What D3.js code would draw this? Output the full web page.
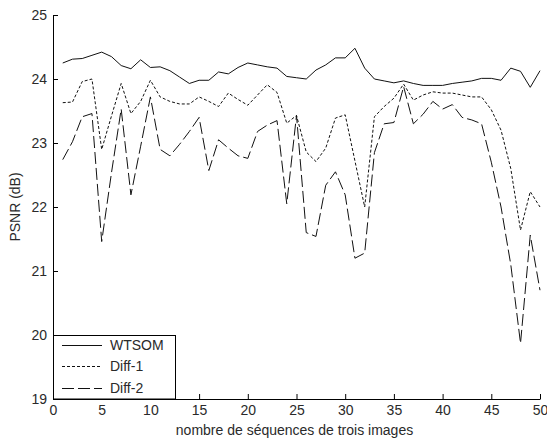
<!DOCTYPE html>
<html>
<head>
<meta charset="utf-8">
<script src="https://cdn.jsdelivr.net/npm/d3@7"></script>
<style>
  html, body { margin: 0; padding: 0; background: #fff; }
  svg { display: block; }
  text { font-family: "Liberation Sans", Arial, sans-serif; }
</style>
</head>
<body>
<svg id="chart" width="547" height="441"></svg>
<script>
const xValues = d3.range(1, 51);
const wtsom = [24.25,24.31,24.32,24.37,24.42,24.35,24.21,24.16,24.30,24.18,
               24.19,24.13,24.03,23.93,23.98,23.98,24.11,24.08,24.18,24.25,
               24.22,24.19,24.17,24.04,24.02,24.00,24.14,24.22,24.33,24.33,
               24.48,24.17,24.00,23.97,23.94,23.97,23.93,23.90,23.90,23.90,
               23.93,23.95,23.97,24.01,24.01,23.98,24.17,24.12,23.87,24.13];
const diff1 = [23.63,23.64,23.96,24.00,22.90,23.42,23.93,23.46,23.65,23.98,
               23.72,23.65,23.61,23.61,23.72,23.65,23.57,23.78,23.68,23.59,
               23.75,23.91,23.79,23.31,23.43,22.86,22.71,22.92,23.39,23.44,
               22.72,22.00,23.41,23.57,23.70,23.92,23.67,23.75,23.80,23.78,
               23.78,23.75,23.72,23.72,23.52,23.20,22.60,21.64,22.24,22.00];
const diff2 = [22.74,23.02,23.41,23.46,21.46,22.53,23.53,22.19,22.95,23.72,
               22.90,22.80,22.98,23.18,23.40,22.57,23.05,22.92,22.80,22.76,
               23.18,23.28,23.35,22.05,23.43,21.60,21.54,22.34,22.55,22.19,
               21.20,21.28,22.85,23.30,23.32,23.88,23.30,23.45,23.65,23.53,
               23.60,23.40,23.36,23.30,22.70,22.00,21.10,19.87,21.56,20.70];
const seriesNames = ["WTSOM", "Diff-1", "Diff-2"];
const xTicks = [0,5,10,15,20,25,30,35,40,45,50];
const yTicks = [19,20,21,22,23,24,25];
const xLabel = "nombre de séquences de trois images";
const yLabel = "PSNR (dB)";

(function () {
const dashes = [null, "3,2", "12,4"];
const seriesData = [wtsom, diff1, diff2];
const FS = 14;
const txtColor = "#2a2a2a";

const svg = d3.select("#chart");
const mLeft = 53, mRight = 540, mTop = 15, mBottom = 399;
const x = d3.scaleLinear().domain([0, 50]).range([mLeft, mRight]);
const y = d3.scaleLinear().domain([19, 25]).range([mBottom, mTop]);

const xAxis = d3.axisBottom(x).tickValues(xTicks).tickFormat(d3.format("d"))
  .tickSizeInner(-5).tickSizeOuter(0).tickPadding(6);
const yAxis = d3.axisLeft(y).tickValues(yTicks).tickFormat(d3.format("d"))
  .tickSizeInner(-5).tickSizeOuter(0).tickPadding(6);

const gx = svg.append("g").attr("transform", `translate(0,${mBottom})`).call(xAxis);
const gy = svg.append("g").attr("transform", `translate(${mLeft},0)`).call(yAxis);
[gx, gy].forEach(g => {
  g.selectAll("path.domain").attr("stroke", "#000").attr("stroke-width", 1);
  g.selectAll(".tick line").attr("stroke", "#000");
  g.selectAll(".tick text").attr("fill", txtColor).attr("font-size", FS)
    .attr("font-family", "'Liberation Sans', Arial, sans-serif");
});

const line = d3.line().x((d, i) => x(xValues[i])).y(d => y(d));
seriesData.forEach((s, k) => {
  svg.append("path")
    .datum(s)
    .attr("fill", "none")
    .attr("stroke", "#111")
    .attr("stroke-width", 1)
    .attr("stroke-dasharray", dashes[k])
    .attr("d", line);
});

const lg = svg.append("g");
lg.append("rect")
  .attr("x", mLeft + 0.5).attr("y", y(20) + 0.5)
  .attr("width", 122).attr("height", mBottom - y(20) - 0.5)
  .attr("fill", "#fff").attr("stroke", "#000").attr("stroke-width", 1);
const legY = [345, 366, 388];
seriesNames.forEach((name, k) => {
  lg.append("line")
    .attr("x1", 62).attr("x2", 102)
    .attr("y1", legY[k] + 0.5).attr("y2", legY[k] + 0.5)
    .attr("stroke", "#111").attr("stroke-width", 1)
    .attr("stroke-dasharray", dashes[k]);
  lg.append("text")
    .attr("x", 110).attr("y", legY[k] + 5)
    .attr("font-size", FS).attr("fill", txtColor)
    .text(name);
});

svg.append("text")
  .attr("x", (mLeft + mRight) / 2 - 2).attr("y", 435)
  .attr("text-anchor", "middle").attr("font-size", FS).attr("fill", txtColor)
  .text(xLabel);
svg.append("text")
  .attr("transform", `translate(20,${(mTop + mBottom) / 2}) rotate(-90)`)
  .attr("text-anchor", "middle").attr("font-size", FS).attr("fill", txtColor)
  .text(yLabel);
})();
</script>
</body>
</html>
